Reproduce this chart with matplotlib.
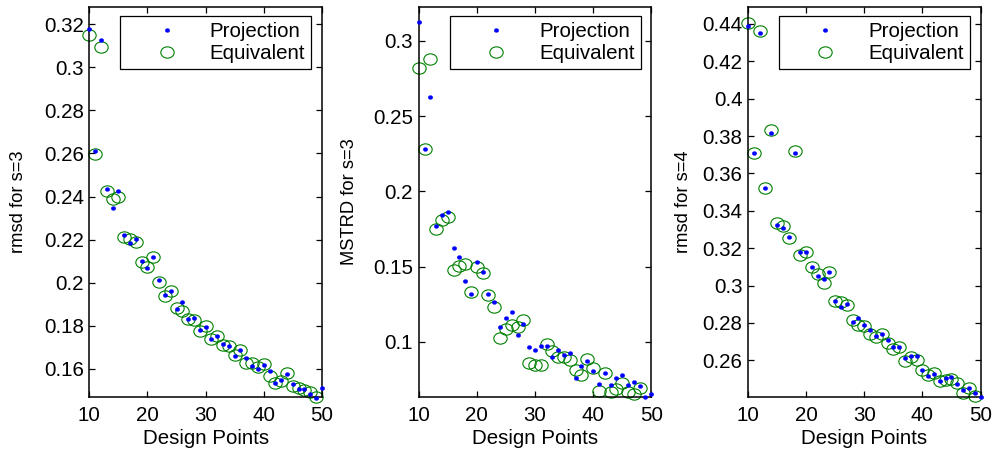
import numpy as np
import matplotlib
matplotlib.use('Agg')
import matplotlib.pyplot as plt
from matplotlib.path import Path
from matplotlib.transforms import Affine2D
from matplotlib.ticker import FormatStrFormatter

# Design point counts
points = list(range(10, 51))

# rmsd for s=3
rmsd3_proj = [0.3178, 0.2613, 0.3126, 0.2435, 0.2347, 0.2427, 0.2220, 0.2183, 0.2203, 0.2103,
              0.2070, 0.2118, 0.2013, 0.1945, 0.1964, 0.1877, 0.1910, 0.1830, 0.1837, 0.1779,
              0.1797, 0.1741, 0.1755, 0.1718, 0.1705, 0.1662, 0.1690, 0.1651, 0.1614, 0.1600,
              0.1617, 0.1592, 0.1537, 0.1549, 0.1578, 0.1530, 0.1506, 0.1508, 0.1484, 0.1465,
              0.1511]
rmsd3_equiv = [0.3149, 0.2597, 0.3095, 0.2427, 0.2388, 0.2400, 0.2211, 0.2203, 0.2189, 0.2097,
               0.2072, 0.2120, 0.2004, 0.1939, 0.1962, 0.1884, 0.1868, 0.1833, 0.1828, 0.1774,
               0.1801, 0.1737, 0.1752, 0.1713, 0.1705, 0.1667, 0.1690, 0.1630, 0.1630, 0.1607,
               0.1621, 0.1569, 0.1537, 0.1546, 0.1580, 0.1521, 0.1510, 0.1502, 0.1494, 0.1468]

# MSTRD for s=3
mstrd3_proj = [0.3124, 0.2280, 0.2628, 0.1773, 0.1844, 0.1862, 0.1625, 0.1567, 0.1407, 0.1319,
               0.1530, 0.1463, 0.1319, 0.1264, 0.1098, 0.1155, 0.1201, 0.1046, 0.1115, 0.0965,
               0.0945, 0.0969, 0.0975, 0.0896, 0.0945, 0.0914, 0.0925, 0.0759, 0.0842, 0.0874,
               0.0803, 0.0721, 0.0790, 0.0714, 0.0756, 0.0781, 0.0716, 0.0732, 0.0705, 0.0630,
               0.0653]
mstrd3_equiv = [0.2819, 0.2281, 0.2883, 0.1749, 0.1811, 0.1829, 0.1474, 0.1505, 0.1516, 0.1330,
                0.1496, 0.1457, 0.1312, 0.1228, 0.1027, 0.1086, 0.1113, 0.1098, 0.1146, 0.0862,
                0.0847, 0.0847, 0.0987, 0.0936, 0.0898, 0.0902, 0.0880, 0.0814, 0.0780, 0.0887,
                0.0825, 0.0672, 0.0792, 0.0667, 0.0688, 0.0726, 0.0663, 0.0654, 0.0692]

# rmsd for s=4
rmsd4_proj = [0.4391, 0.3709, 0.4350, 0.3521, 0.3815, 0.3325, 0.3307, 0.3259, 0.3709, 0.3179,
              0.3179, 0.3097, 0.3052, 0.3035, 0.3072, 0.2917, 0.2885, 0.2901, 0.2805, 0.2829,
              0.2790, 0.2760, 0.2728, 0.2742, 0.2708, 0.2669, 0.2669, 0.2614, 0.2626, 0.2623,
              0.2550, 0.2514, 0.2528, 0.2492, 0.2507, 0.2511, 0.2473, 0.2439, 0.2453, 0.2425,
              0.2402]
rmsd4_equiv = [0.4404, 0.3712, 0.4364, 0.3521, 0.3833, 0.3337, 0.3320, 0.3254, 0.3721, 0.3165,
               0.3179, 0.3098, 0.3063, 0.3013, 0.3072, 0.2920, 0.2910, 0.2898, 0.2817, 0.2790,
               0.2785, 0.2741, 0.2725, 0.2742, 0.2692, 0.2660, 0.2674, 0.2594, 0.2617, 0.2603,
               0.2546, 0.2523, 0.2532, 0.2491, 0.2496, 0.2500, 0.2479, 0.2428, 0.2453, 0.2407]

ylabels = ['rmsd for s=3', 'MSTRD for s=3', 'rmsd for s=4']
yticks = [np.arange(0.16, 0.321, 0.02), np.arange(0.10, 0.301, 0.05), np.arange(0.26, 0.441, 0.02)]
ylims = [(0.147, 0.328), (0.0633, 0.3226), (0.2404, 0.4491)]

plt.rcParams['font.family'] = ['Liberation Sans', 'DejaVu Sans']
plt.rcParams['font.size'] = 14.8

# slightly wide markers, like the original figure window
oval = Affine2D().scale(1.18, 1.0).transform_path(Path.unit_circle())

fig = plt.figure(figsize=(9.97, 4.5), dpi=100)
lefts = [0.0896, 0.4200, 0.7503]
series = [(rmsd3_proj, rmsd3_equiv), (mstrd3_proj, mstrd3_equiv), (rmsd4_proj, rmsd4_equiv)]
label_x = [-0.268, -0.261, -0.241]

for i in range(3):
    ax = fig.add_axes([lefts[i], 0.1178, 0.2332, 0.8667])
    proj, equiv = series[i]
    ax.plot(points, proj, linestyle='none', marker=oval, markersize=3.2,
            markerfacecolor='#0000ff', markeredgecolor='#0000ff', markeredgewidth=0.3,
            label='Projection', clip_on=False, zorder=3)
    ax.plot(points[:len(equiv)], equiv, linestyle='none', marker=oval, markersize=9.6,
            markerfacecolor='none', markeredgecolor='#008000', markeredgewidth=0.8,
            label='Equivalent', clip_on=False, zorder=2)

    ax.set_xlim(10, 50)
    ax.set_ylim(*ylims[i])
    ax.set_xticks([10, 20, 30, 40, 50])
    ax.set_yticks(yticks[i])
    ax.yaxis.set_major_formatter(FormatStrFormatter('%g'))
    ax.tick_params(direction='in', top=True, right=True, length=4, width=0.9)
    ax.tick_params(axis='x', pad=6.5)
    ax.tick_params(axis='y', pad=4)
    for s in ax.spines.values():
        s.set_linewidth(1.1)

    ax.set_xlabel('Design Points')
    ax.xaxis.set_label_coords(0.5, -0.083)
    ax.set_ylabel(ylabels[i], fontsize=13.2)
    ax.yaxis.set_label_coords(label_x[i], 0.5)

    leg = ax.legend(loc='upper right', bbox_to_anchor=(0.955, 0.978), borderaxespad=0,
                    fancybox=False, edgecolor='black', framealpha=1, borderpad=0.3,
                    handlelength=3.9, handletextpad=0.15, labelspacing=0.15)
    leg.get_frame().set_linewidth(0.9)

fig.savefig('out.png', dpi=100)
